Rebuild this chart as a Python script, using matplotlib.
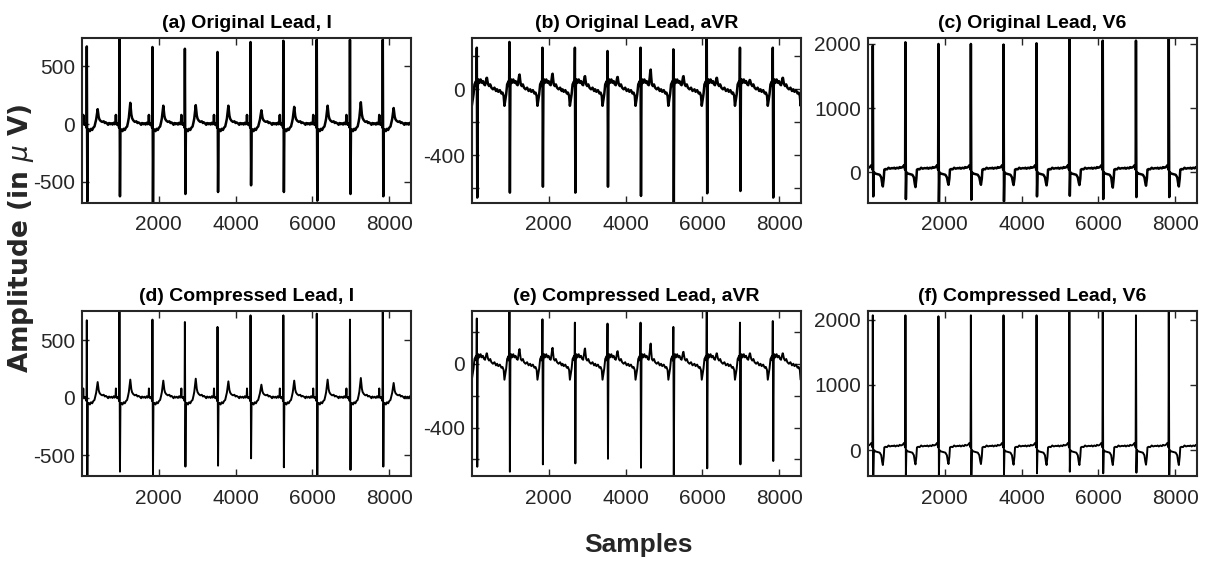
import numpy as np
import matplotlib
matplotlib.use("Agg")
import matplotlib.pyplot as plt

# ---------------- data ----------------
n_samples = 8570
r_pos = [125, 975, 1835, 2680, 3530, 4390, 5245, 6115, 6980, 7835]   # R-peak sample positions
xtick_vals = [2000, 4000, 6000, 8000]

# Lead I beat shape (offset from R in samples, base value in uV, fraction of T amplitude)
lead1_off  = [-320, -295, -270, -240, -210, -180, -150, -125, -100, -92, -84, -60, -40, -20, -8, 0, 14, 26, 50, 80, 110, 140, 170, 200, 225, 245, 262, 275, 283, 295, 310, 330, 360, 400, 440, 470, 500]
lead1_base = [5, -5, 10, 0, 8, -3, 12, 0, 20, 80, 10, -5, 5, -10, -30, 0, 0, -55, -45, -60, -40, -50, -30, -20, 0, 10, 10, 0, 0, 0, 10, 15, 15, 20, 25, 10, 15]
lead1_frac = [0, 0, 0, 0, 0, 0, 0, 0, 0, 0, 0, 0, 0, 0, 0, 0, 0, 0, 0, 0, 0, 0, 0, 0, 0.1, 0.25, 0.55, 0.85, 1.0, 0.75, 0.4, 0.2, 0.1, 0, 0, 0, 0]

# aVR beat shape
avr_off  = [-320, -290, -250, -210, -180, -150, -130, -110, -85, -60, -40, -20, -8, 0, 12, 25, 45, 70, 100, 130, 160, 190, 215, 240, 255, 265, 278, 295, 320, 350, 380, 420, 460, 500]
avr_base = [0, -15, -5, -25, -20, -40, -100, -70, -30, 30, 40, 50, 20, 0, 0, 20, 60, 40, 60, 40, 50, 30, 25, 25, 10, 0, 15, 30, 20, 30, 10, 0, 10, -10]
avr_frac = [0, 0, 0, 0, 0, 0, 0, 0, 0, 0, 0, 0, 0, 0, 0, 0, 0, 0, 0, 0, 0, 0, 0, 0.4, 0.85, 1.0, 0.5, 0, 0, 0, 0, 0, 0, 0]

# V6 beat shape (frac scales the post-ST dip)
v6_off  = [-320, -290, -260, -220, -180, -150, -120, -90, -60, -35, -20, -8, 0, 12, 25, 60, 120, 180, 220, 245, 262, 285, 300, 330, 370, 410, 450, 500]
v6_base = [60, 70, 55, 70, 60, 80, 70, 75, 90, 110, 70, 40, 0, 0, 0, -20, -30, -40, -80, 0, 0, -100, 40, 50, 45, 70, 55, 65]
v6_frac = [0, 0, 0, 0, 0, 0, 0, 0, 0, 0, 0, 0, 0, 0, 0, 0, 0, 0, 0, 0.8, 1.0, 0, 0, 0, 0, 0, 0, 0]

# per-beat amplitudes (uV)
a_r = [673, 746, 668, 653, 625, 711, 722, 731, 731, 731]
a_s = [-668, -624, -682, -604, -587, -529, -587, -662, -604, -624]
a_t = [130, 185, 160, 165, 160, 120, 150, 160, 190, 140]

b_r = [253, 288, 253, 253, 233, 253, 243, 312, 253, 253]
b_s = [-658, -628, -592, -628, -592, -648, -691, -632, -618, -658]
b_t = [70, 90, 95, 80, 75, 120, 80, 70, 55, 70]

c_r = [1974, 2026, 2000, 2000, 1990, 2010, 2078, 2052, 2052, 2093]
c_s = [-377, -419, -480, -429, -455, -377, -367, -419, -388, -388]
c_t = [-222, -232, -196, -196, -200, -205, -200, -240, -210, -222]

d_r = [674, 746, 680, 659, 616, 717, 717, 732, 680, 755]
d_s = [-674, -645, -683, -601, -593, -529, -607, -674, -630, -601]
d_t = [136, 157, 148, 165, 142, 113, 148, 157, 171, 128]

e_r = [284, 331, 279, 258, 252, 258, 231, 325, 258, 268]
e_s = [-646, -677, -631, -625, -596, -652, -704, -656, -631, -610]
e_t = [65, 92, 100, 96, 79, 127, 75, 65, 65, 65]

f_r = [2066, 2066, 2051, 2066, 2066, 2066, 2117, 2132, 2066, 2117]
f_s = [-383, -383, -383, -383, -383, -357, -332, -357, -347, -383]
f_t = [-230, -220, -215, -215, -225, -230, -230, -230, -225, -230]

titles = ["(a) Original Lead, I", "(b) Original Lead, aVR", "(c) Original Lead, V6",
          "(d) Compressed Lead, I", "(e) Compressed Lead, aVR", "(f) Compressed Lead, V6"]
ylims = [(-682, 746), (-691, 312), (-480, 2093), (-683, 755), (-704, 331), (-398, 2132)]
yticks_ecg_i = [-500, 0, 500]
yticklabels_ecg_i = ["-500", "0", "500"]
yticks_avr = [-600, -400, -200, 0, 200]
yticklabels_avr = ["", "-400", "", "0", ""]
yticks_v6 = [0, 1000, 2000]
yticklabels_v6 = ["0", "1000", "2000"]


def build(off, base, frac, rr, ss, tt):
    xs, ys = [], []
    i_r = off.index(0)
    for k, r in enumerate(r_pos):
        for j, (o, b, f) in enumerate(zip(off, base, frac)):
            if j == i_r:
                v = rr[k]
            elif j == i_r + 1:
                v = ss[k]
            else:
                v = b + f * tt[k]
            xs.append(r + o)
            ys.append(v)
    # leading part of the beat that follows the last one (clipped by the axes)
    nxt = r_pos[-1] + (r_pos[-1] - r_pos[-2])
    for o, b in zip(off, base):
        if o < -10:
            xs.append(nxt + o)
            ys.append(b)
    xs, ys = np.array(xs), np.array(ys)
    keep = xs >= off[0] + r_pos[0] + 150
    return xs[keep], ys[keep]


series = [
    build(lead1_off, lead1_base, lead1_frac, a_r, a_s, a_t),
    build(avr_off, avr_base, avr_frac, b_r, b_s, b_t),
    build(v6_off, v6_base, v6_frac, c_r, c_s, c_t),
    build(lead1_off, lead1_base, lead1_frac, d_r, d_s, d_t),
    build(avr_off, avr_base, avr_frac, e_r, e_s, e_t),
    build(v6_off, v6_base, v6_frac, f_r, f_s, f_t),
]
ytick_sets = [(yticks_ecg_i, yticklabels_ecg_i), (yticks_avr, yticklabels_avr), (yticks_v6, yticklabels_v6)] * 2

# ---------------- drawing ----------------
sans = ["Liberation Sans", "DejaVu Sans"]
W, H = 1217, 565
fig = plt.figure(figsize=(W / 100, H / 100), dpi=100)

lefts = [82, 472, 868]
tops = [38, 311]
aw, ah = 329, 165
gray = "#262626"

for i in range(6):
    row, col = divmod(i, 3)
    ax = fig.add_axes([lefts[col] / W, (H - tops[row] - ah) / H, aw / W, ah / H])
    xs, ys = series[i]
    lw = 1.8 if row == 0 else 1.4
    ax.plot(xs, ys, color="black", lw=lw, solid_joinstyle="round")
    ax.set_xlim(0, n_samples)
    ax.set_ylim(*ylims[i])
    ax.set_xticks(xtick_vals)
    ax.set_xticklabels([str(v) for v in xtick_vals], fontfamily=sans, fontsize=15, color=gray)
    yt, yl = ytick_sets[i]
    ax.set_yticks(yt)
    ax.set_yticklabels(yl, fontfamily=sans, fontsize=15, color=gray)
    ax.tick_params(direction="in", top=True, right=True, length=5, width=1.0, color=gray)
    ax.tick_params(axis="x", pad=9)
    ax.tick_params(axis="y", pad=5)
    for sp in ax.spines.values():
        sp.set_linewidth(1.5)
        sp.set_color(gray)
    ax.set_title(titles[i], fontfamily=sans, fontsize=14, fontweight="bold", pad=7)

fig.text(638 / W, 1 - 545 / H, "Samples", fontfamily=sans, fontsize=19, fontweight="bold",
         ha="center", va="center", color=gray)
fig.text(21 / W, 1 - 238 / H, r"Amplitude (in $\mu$ V)", fontfamily="DejaVu Sans", fontsize=19,
         fontweight="bold", rotation=90, ha="center", va="center", color=gray)

fig.savefig("out.png", dpi=100)
